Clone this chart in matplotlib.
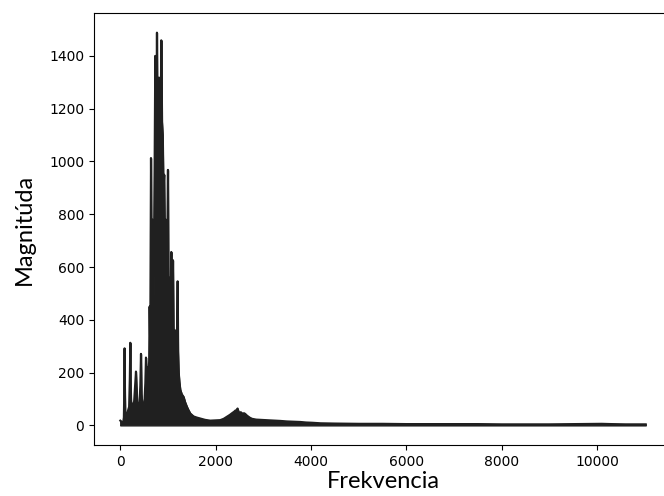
import matplotlib
matplotlib.use("Agg")
import matplotlib.pyplot as plt

# obálka spektra odčítaná z obrázku (frekvencia v Hz, magnitúda)
freq_hz = [0, 20, 40, 60, 75, 85, 90, 95, 105, 130, 160, 185, 200, 210, 218, 230,
           260, 290, 310, 329, 340, 355, 380, 405, 420, 434, 445, 465, 490, 510,
           525, 539, 550, 570, 590, 605, 615, 628, 644, 658, 672, 690, 705, 720,
           734, 748, 758, 769, 782, 795, 811, 830, 845, 860, 875, 890, 905, 920,
           935, 950, 965, 980, 990, 1000, 1012, 1025, 1040, 1055, 1070, 1080,
           1092, 1105, 1118, 1135, 1150, 1165, 1180, 1195, 1203, 1212, 1225,
           1240, 1259, 1290, 1328, 1360, 1399, 1430, 1469, 1538, 1600, 1678,
           1780, 1888, 2000, 2098, 2170, 2239, 2300, 2343, 2390, 2413, 2440,
           2461, 2480, 2497, 2530, 2553, 2602, 2630, 2658, 2710, 2763, 2850,
           2937, 3040, 3147, 3250, 3357, 3500, 3650, 3776, 3900, 4028, 4200,
           4500, 5000, 5500, 6000, 6500, 7000, 7500, 8000, 8500, 9000, 9500,
           9900, 10100, 10300, 10600, 11025]
magnitude = [18, 15, 12, 10, 30, 150, 292, 150, 25, 40, 55, 70, 180, 313, 150, 60,
             80, 90, 150, 204, 150, 90, 70, 90, 150, 271, 120, 60, 80, 100,
             160, 257, 210, 220, 200, 240, 450, 300, 1013, 550, 780, 300, 650, 980,
             1400, 900, 1150, 1488, 1050, 850, 1318, 900, 1100, 1459, 1150, 1100, 900, 950,
             700, 780, 400, 550, 780, 968, 450, 560, 430, 480, 657, 400,
             460, 626, 350, 300, 360, 280, 300, 400, 546, 280, 200,
             165, 135, 118, 108, 88, 70, 58, 45, 34, 30, 26,
             21, 18, 19, 20, 25, 33, 40, 46, 52, 56, 58,
             64, 52, 48, 50, 45, 46, 42, 37, 30, 25, 22,
             21, 20, 19, 18, 17, 15, 14, 13, 11, 10, 8,
             7, 6, 6, 5, 5, 5, 5, 4, 4, 4, 5,
             6, 6, 5, 4, 4]
baseline = [0] * len(freq_hz)

color = "#202020"

fig = plt.figure(figsize=(6.64, 4.96), dpi=100)
ax = fig.add_axes([94 / 664, 51 / 496, 578 / 664, 432 / 496])

ax.fill_between(freq_hz, baseline, magnitude, color=color, linewidth=1.0)
ax.plot(freq_hz, magnitude, color=color, linewidth=1.5)

ax.set_xlabel("Frekvencia", fontsize=17, family="Lato", labelpad=2)
ax.set_ylabel("Magnitúda", fontsize=17, family="Lato", labelpad=10)
ax.spines["right"].set_visible(False)

fig.savefig("out.png", dpi=100)
